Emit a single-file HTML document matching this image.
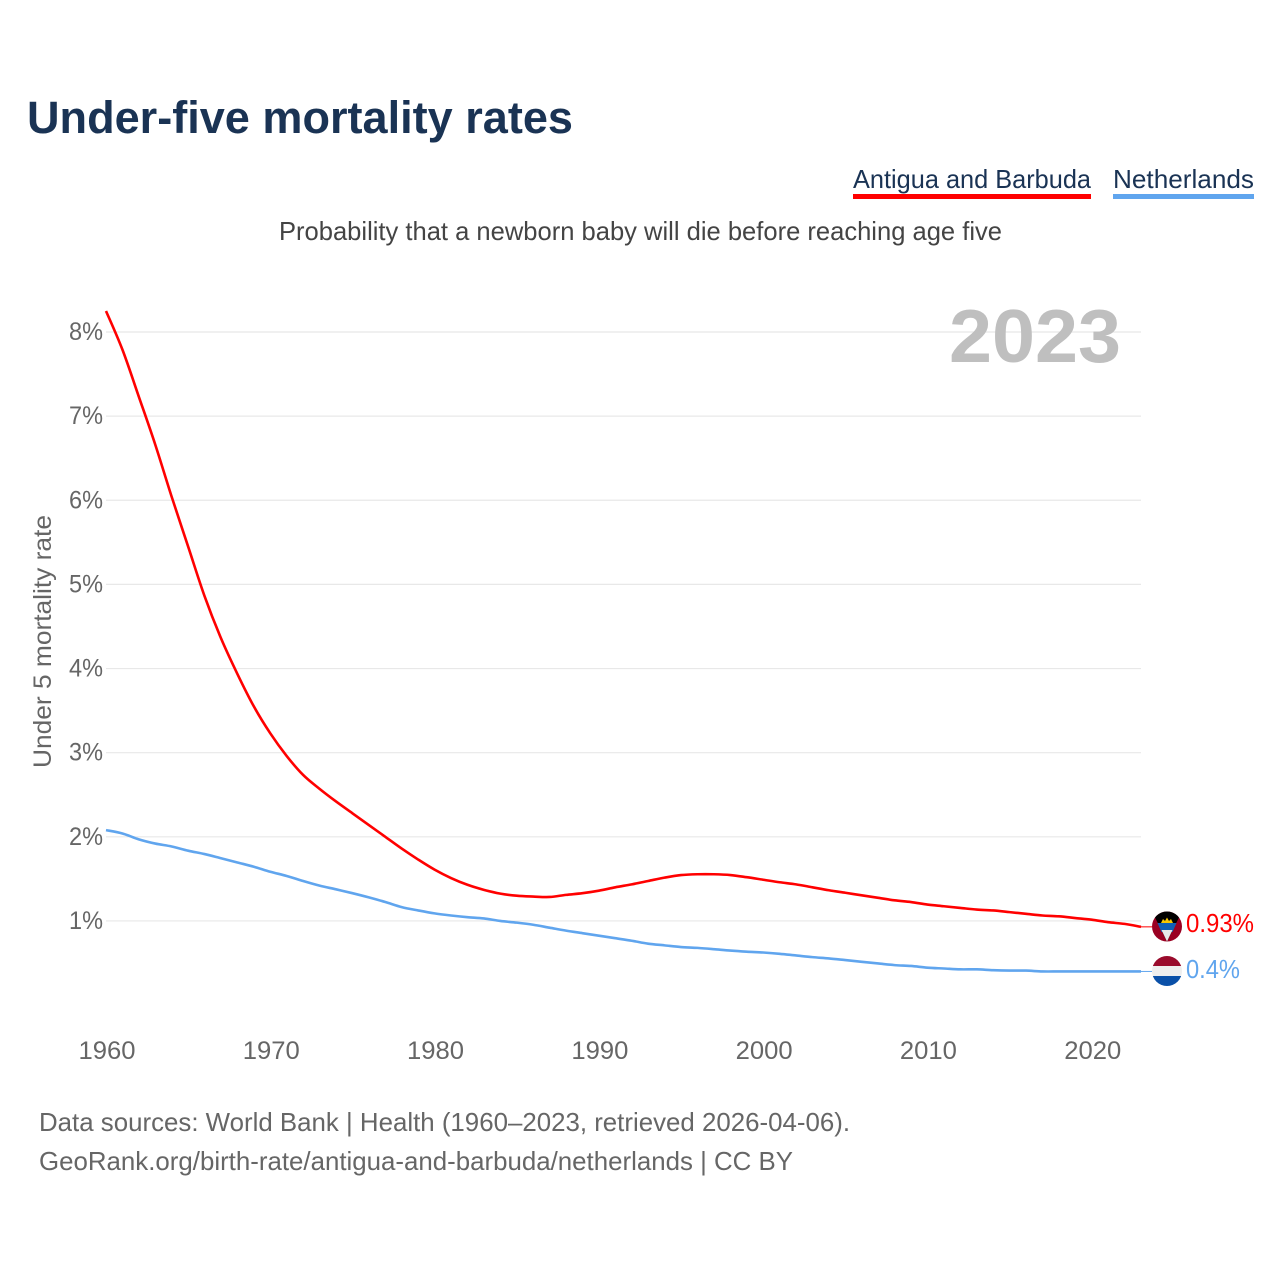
<!DOCTYPE html>
<html lang="en">
<head>
<meta charset="utf-8">
<title>Under-five mortality rates</title>
<style>
html,body{margin:0;padding:0;background:#fff;}
svg{display:block;font-family:"Liberation Sans",sans-serif;}
</style>
</head>
<body>
<svg id="chart" width="1280" height="1280" viewBox="0 0 1280 1280" xmlns="http://www.w3.org/2000/svg">
  <defs>
    <clipPath id="clip-ag"><circle cx="1167" cy="926.5" r="15"/></clipPath>
    <clipPath id="clip-nl"><circle cx="1167" cy="971" r="15"/></clipPath>
  </defs>
  <rect width="1280" height="1280" fill="#fff"/>
  <text x="27" y="133" font-size="45" font-weight="700" fill="#1a3354" textLength="546" lengthAdjust="spacingAndGlyphs">Under-five mortality rates</text>
  <g>
    <text x="853" y="188" font-size="26" fill="#1a3354" textLength="238" lengthAdjust="spacingAndGlyphs">Antigua and Barbuda</text>
    <rect x="853" y="194" width="238" height="5" fill="#ff0000"/>
  </g>
  <g>
    <text x="1113" y="188" font-size="26" fill="#1a3354" textLength="141" lengthAdjust="spacingAndGlyphs">Netherlands</text>
    <rect x="1113" y="194" width="141" height="5" fill="#60a5ee"/>
  </g>
  <text x="279" y="240" font-size="26" fill="#444" textLength="723" lengthAdjust="spacingAndGlyphs">Probability that a newborn baby will die before reaching age five</text>
  <g id="grid"></g>
  <text x="949" y="362" font-size="75" font-weight="700" fill="#bfbfbf" textLength="172" lengthAdjust="spacingAndGlyphs">2023</text>
  <g id="y-ticks"></g>
  <g id="x-ticks"></g>
  <text transform="translate(51,768) rotate(-90)" font-size="25" fill="#666" textLength="253" lengthAdjust="spacingAndGlyphs">Under 5 mortality rate</text>
  <g id="series"></g>
  <g clip-path="url(#clip-ag)">
    <rect x="1152" y="911.5" width="30" height="30" fill="#9a0022"/>
    <polygon points="1152,911.5 1182,911.5 1167,941.5" fill="#000"/>
    <polygon points="1157.5,923 1176.5,923 1172.5,932 1161.5,932" fill="#0f5fb5"/>
    <polygon points="1161.5,930 1172.5,930 1167,941.5" fill="#e8e8e8"/>
    <polygon points="1161,923 1163,919 1165,921 1167,917.5 1169,921 1171,919 1173,923" fill="#f7c600"/>
  </g>
  <g clip-path="url(#clip-nl)">
    <rect x="1152" y="956" width="30" height="10" fill="#9a0b2c"/>
    <rect x="1152" y="966" width="30" height="10" fill="#eeeeee"/>
    <rect x="1152" y="976" width="30" height="10" fill="#0a50a8"/>
  </g>
  <text id="label-antigua" x="1186" y="932" font-size="26" fill="#ff0000" textLength="68" lengthAdjust="spacingAndGlyphs">0.93%</text>
  <text id="label-netherlands" x="1186" y="978" font-size="26" fill="#60a5ee" textLength="54" lengthAdjust="spacingAndGlyphs">0.4%</text>
  <text x="39" y="1131" font-size="26" fill="#666" textLength="811" lengthAdjust="spacingAndGlyphs">Data sources: World Bank | Health (1960–2023, retrieved 2026-04-06).</text>
  <text x="39" y="1170" font-size="26" fill="#666" textLength="754" lengthAdjust="spacingAndGlyphs">GeoRank.org/birth-rate/antigua-and-barbuda/netherlands | CC BY</text>
</svg>
<script>
const startYear = 1960;
const xTicks = [1960, 1970, 1980, 1990, 2000, 2010, 2020];
const yTicks = [1, 2, 3, 4, 5, 6, 7, 8];
const antiguaValues = [8.25, 7.79, 7.23, 6.66, 6.04, 5.45, 4.86, 4.36, 3.935, 3.55, 3.23, 2.96, 2.735, 2.57, 2.42, 2.28, 2.14, 2.0, 1.86, 1.73, 1.61, 1.51, 1.43, 1.37, 1.325, 1.30, 1.29, 1.285, 1.31, 1.33, 1.36, 1.40, 1.435, 1.475, 1.515, 1.545, 1.555, 1.555, 1.546, 1.52, 1.49, 1.46, 1.435, 1.40, 1.365, 1.335, 1.305, 1.275, 1.245, 1.225, 1.195, 1.175, 1.155, 1.135, 1.125, 1.105, 1.085, 1.065, 1.055, 1.035, 1.015, 0.985, 0.965, 0.93];
const netherlandsValues = [2.08, 2.04, 1.97, 1.92, 1.885, 1.835, 1.795, 1.745, 1.695, 1.645, 1.585, 1.535, 1.475, 1.42, 1.376, 1.33, 1.28, 1.225, 1.165, 1.125, 1.09, 1.065, 1.045, 1.03, 1.0, 0.98, 0.955, 0.92, 0.885, 0.855, 0.825, 0.795, 0.765, 0.73, 0.71, 0.69, 0.68, 0.665, 0.648, 0.635, 0.625, 0.61, 0.59, 0.57, 0.555, 0.535, 0.515, 0.495, 0.475, 0.465, 0.445, 0.435, 0.425, 0.425, 0.415, 0.41, 0.41, 0.4, 0.40, 0.40, 0.40, 0.40, 0.40, 0.40];

const NS = 'http://www.w3.org/2000/svg';
const xScale = function (year) { return 106 + (year - 1960) * (1035 / 63); };
const yScale = function (value) { return 1005.1 - value * 84.14; };
const make = function (tag, parent) {
  const el = document.createElementNS(NS, tag);
  parent.appendChild(el);
  return el;
};
const smoothPath = function (pts) {
  let d = 'M' + pts[0][0].toFixed(2) + ' ' + pts[0][1].toFixed(2);
  for (let i = 0; i < pts.length - 1; i++) {
    const p0 = pts[Math.max(i - 1, 0)];
    const p1 = pts[i];
    const p2 = pts[i + 1];
    const p3 = pts[Math.min(i + 2, pts.length - 1)];
    const c1x = p1[0] + (p2[0] - p0[0]) / 6;
    const c1y = p1[1] + (p2[1] - p0[1]) / 6;
    const c2x = p2[0] - (p3[0] - p1[0]) / 6;
    const c2y = p2[1] - (p3[1] - p1[1]) / 6;
    d += 'C' + c1x.toFixed(2) + ' ' + c1y.toFixed(2) + ' ' + c2x.toFixed(2) + ' ' + c2y.toFixed(2) + ' ' + p2[0].toFixed(2) + ' ' + p2[1].toFixed(2);
  }
  return d;
};
const gridGroup = document.getElementById('grid');
const yGroup = document.getElementById('y-ticks');
const xGroup = document.getElementById('x-ticks');
const seriesGroup = document.getElementById('series');

yTicks.forEach(function (tick) {
  const line = make('line', gridGroup);
  
  
  line.setAttribute('x1', 106);
  line.setAttribute('x2', 1141);
  line.setAttribute('y1', yScale(tick));
  line.setAttribute('y2', yScale(tick));
  line.setAttribute('stroke', '#e8e8e8');
  line.setAttribute('stroke-width', 1.2);
  const label = make('text', yGroup);
  
  
  label.setAttribute('x', 69);
  label.setAttribute('y', yScale(tick) + 8);
  label.setAttribute('font-size', 25);
  label.setAttribute('fill', '#666');
  label.setAttribute('textLength', 34);
  label.setAttribute('lengthAdjust', 'spacingAndGlyphs');
  label.textContent = tick + '%';
});

xTicks.forEach(function (tick) {
  const label = make('text', xGroup);
  
  
  label.setAttribute('x', xScale(tick) - 27.5);
  label.setAttribute('y', 1059);
  label.setAttribute('font-size', 25);
  label.setAttribute('fill', '#666');
  label.setAttribute('textLength', 57);
  label.setAttribute('lengthAdjust', 'spacingAndGlyphs');
  label.textContent = String(tick);
});

const drawSeries = function (values, color, name) {
  const points = values.map(function (value, i) {
    return [xScale(startYear + i), yScale(value)];
  });
  const line = make('path', seriesGroup);
  
  
  line.setAttribute('d', smoothPath(points));
  line.setAttribute('fill', 'none');
  line.setAttribute('stroke', color);
  line.setAttribute('stroke-width', 2.6);
  line.setAttribute('stroke-linejoin', 'round');
  const lastY = yScale(values[values.length - 1]);
  const connector = make('line', seriesGroup);
  
  
  connector.setAttribute('x1', xScale(2023));
  connector.setAttribute('x2', 1152);
  connector.setAttribute('y1', lastY);
  connector.setAttribute('y2', lastY);
  connector.setAttribute('stroke', color);
  connector.setAttribute('stroke-width', 1);
};
drawSeries(netherlandsValues, '#60a5ee', 'line-netherlands');
drawSeries(antiguaValues, '#ff0000', 'line-antigua');

document.getElementById('label-antigua').textContent = antiguaValues[antiguaValues.length - 1] + '%';
document.getElementById('label-netherlands').textContent = netherlandsValues[netherlandsValues.length - 1] + '%';
</script>
</body>
</html>
